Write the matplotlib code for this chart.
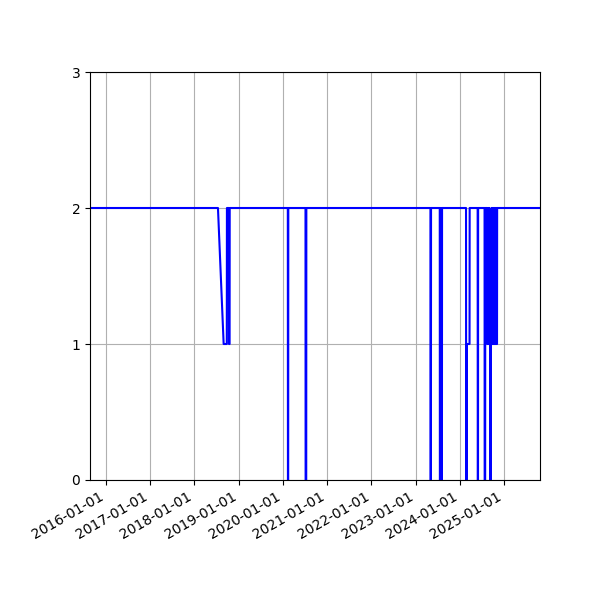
import matplotlib
matplotlib.use("Agg")
import matplotlib.pyplot as plt
import matplotlib.dates as mdates
import pandas as pd

dates = [
    "2015-08-22", "2018-07-14", "2018-08-30", "2018-09-25", "2018-09-26",
    "2018-10-12", "2018-10-13", "2018-10-18", "2018-10-19",
    "2020-02-11", "2020-02-12", "2020-02-14", "2020-02-15",
    "2020-07-06", "2020-07-07", "2020-07-12", "2020-07-13",
    "2023-05-04", "2023-05-05", "2023-05-08", "2023-05-09",
    "2023-07-20", "2023-07-21", "2023-07-24", "2023-07-25",
    "2023-07-28", "2023-07-29", "2023-08-01", "2023-08-02",
    "2023-08-04", "2023-08-05", "2023-08-07", "2023-08-08",
    "2024-02-22", "2024-02-23", "2024-02-28", "2024-02-29",
    "2024-03-22", "2024-03-23",
    "2024-05-28", "2024-05-29", "2024-05-31", "2024-06-01",
    "2024-07-24", "2024-07-25", "2024-07-29", "2024-07-30",
    "2024-08-14", "2024-08-15", "2024-08-20", "2024-08-21",
    "2024-08-24", "2024-08-25", "2024-08-28", "2024-08-29",
    "2024-09-01", "2024-09-02", "2024-09-08", "2024-09-09",
    "2024-09-14", "2024-09-15", "2024-09-18", "2024-09-19",
    "2024-09-22", "2024-09-23", "2024-09-26", "2024-09-27",
    "2024-09-30", "2024-10-01", "2024-10-04", "2024-10-05",
    "2024-10-08", "2024-10-09", "2024-10-12", "2024-10-13",
    "2024-10-16", "2024-10-17", "2024-10-20", "2024-10-21",
    "2024-10-24", "2024-10-25", "2024-10-28", "2024-10-29",
    "2024-11-01", "2024-11-02", "2024-11-04", "2024-11-05",
    "2025-10-25",
]
values = [
    2, 2, 1, 1, 2,
    2, 1, 1, 2,
    2, 0, 0, 2,
    2, 0, 0, 2,
    2, 0, 0, 2,
    2, 0, 0, 2,
    2, 0, 0, 2,
    2, 0, 0, 2,
    2, 0, 0, 1,
    1, 2,
    2, 0, 0, 2,
    2, 0, 0, 2,
    2, 1, 1, 2,
    2, 1, 1, 2,
    2, 1, 1, 0,
    0, 1, 1, 2,
    2, 1, 1, 2,
    2, 1, 1, 2,
    2, 1, 1, 2,
    2, 1, 1, 2,
    2, 1, 1, 2,
    2, 1, 1, 2,
    2,
]
y_ticks = [0, 1, 2, 3]

x = pd.to_datetime(dates)

fig = plt.figure(figsize=(6, 6), dpi=100)
ax = fig.add_subplot(111)
fig.subplots_adjust(left=0.15, right=0.9, top=0.88, bottom=0.2)
ax.plot(x, values, color="blue", linewidth=1.5)
ax.set_xlim(x[0], x[-1])
ax.set_ylim(0, 3)
ax.set_yticks(y_ticks)
ax.xaxis.set_major_locator(mdates.YearLocator())
ax.xaxis.set_major_formatter(mdates.DateFormatter("%Y-%m-%d"))
ax.grid(True)
for lbl in ax.get_xticklabels():
    lbl.set_rotation(30)
    lbl.set_ha("right")
fig.savefig("out.png", dpi=100)
